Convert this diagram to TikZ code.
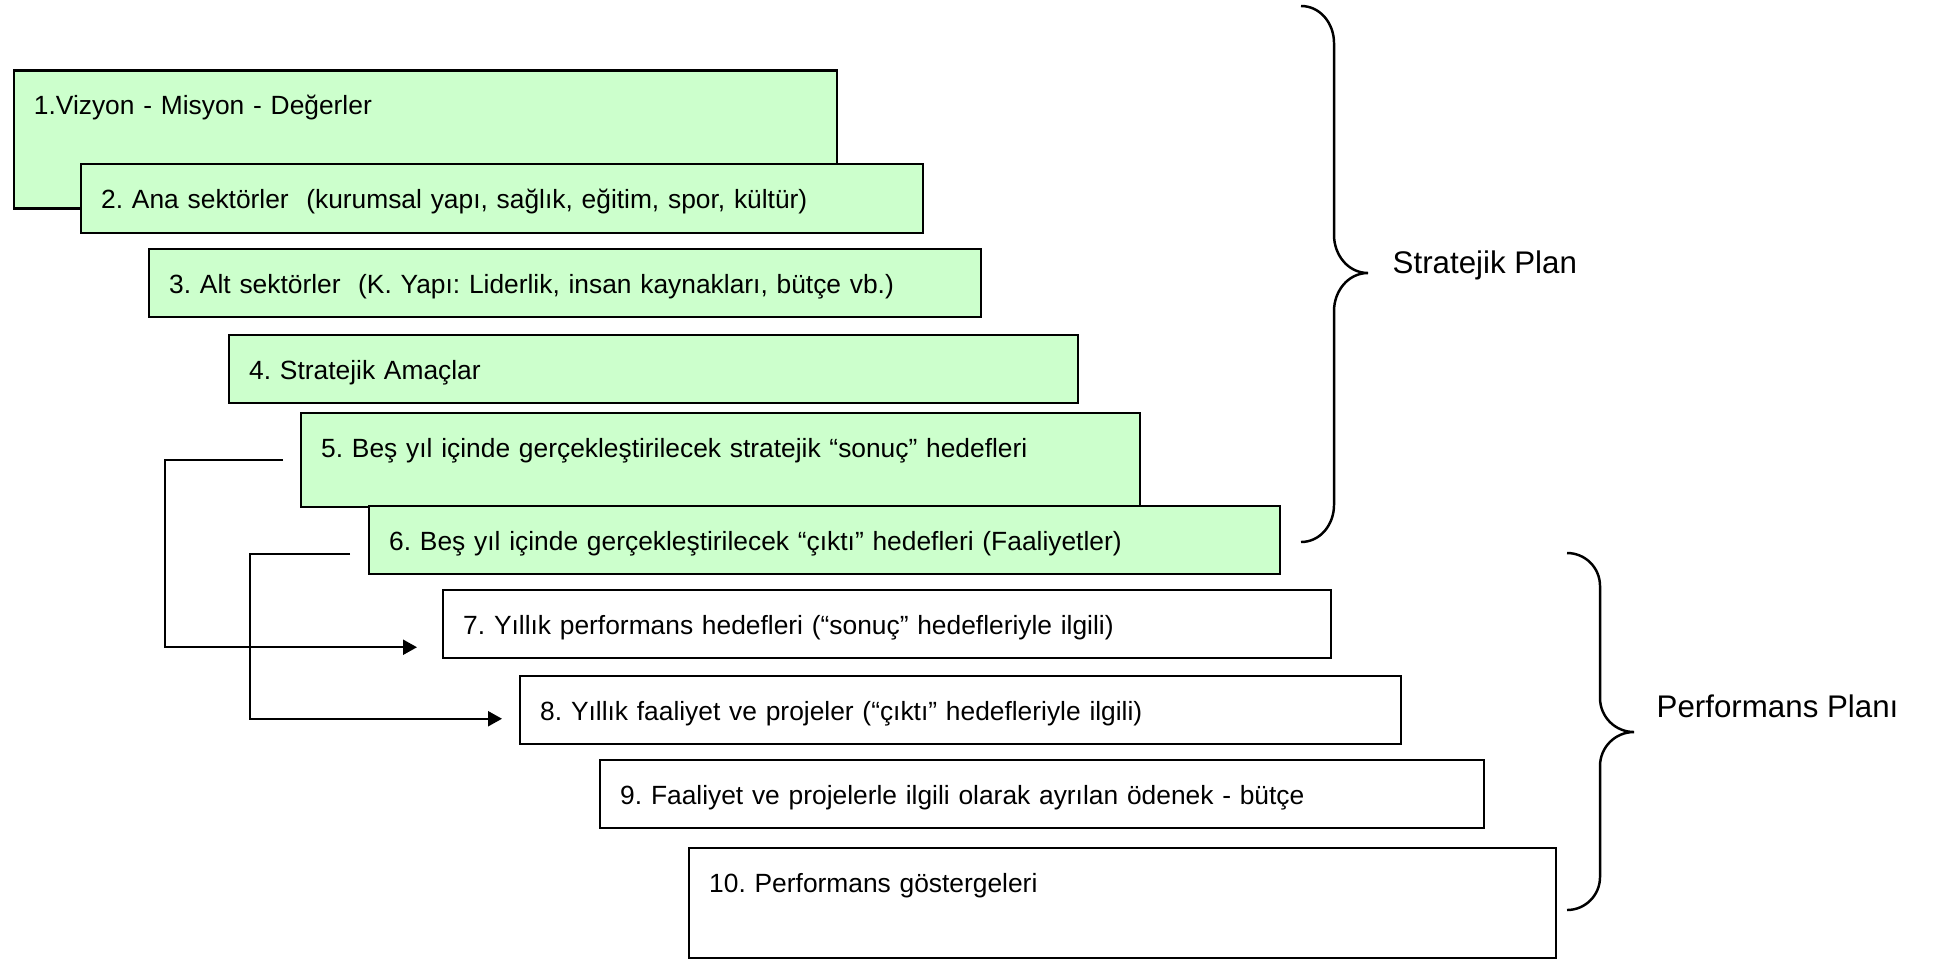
\documentclass[tikz,border=0pt]{standalone}
\usepackage{fontspec}
\setmainfont{Liberation Sans}
\usetikzlibrary{arrows.meta}
\definecolor{softgreen}{HTML}{CCFFCC}
\frenchspacing

\begin{document}
\begin{tikzpicture}
            [stage/.style={draw, line width=0.7pt, anchor=north west, inner xsep=0.2cm, inner ysep=0pt,
                text height=0.44cm, text depth=0.24cm, align=left, font=\fontsize{7.5}{9}\selectfont},
        stageGreen/.style={stage, fill=softgreen},
        planLabel/.style={anchor=base west, inner sep=0pt, font=\fontsize{8.9}{11}\selectfont},
        conn/.style={line width=0.6pt, -{Triangle[length=0.14cm, width=0.15cm]}}]
            \useasboundingbox (0,0) rectangle (19.41,-9.58);

            \node[stageGreen, text width=7.83cm, text depth=0.94cm] (v1) at (0.127,-0.693) {1.Vizyon - Misyon - Değerler};
            \node[stageGreen, text width=8.02cm, text depth=0.25cm] (v2) at (0.80,-1.63) {2. Ana sektörler\ \ (kurumsal yapı, sağlık, eğitim, spor, kültür)};
            \node[stageGreen, text width=7.92cm] (v3) at (1.48,-2.48) {3. Alt sektörler\ \ (K. Yapı: Liderlik, insan kaynakları, bütçe vb.)};
            \node[stageGreen, text width=8.09cm] (v4) at (2.28,-3.34) {4. Stratejik Amaçlar};
            \node[stageGreen, text width=7.99cm, text depth=0.50cm] (v5) at (3.00,-4.12) {5. Beş yıl içinde gerçekleştirilecek stratejik “sonuç” hedefleri};
            \node[stageGreen, text width=8.71cm] (v6) at (3.68,-5.05) {6. Beş yıl içinde gerçekleştirilecek “çıktı” hedefleri (Faaliyetler)};
            \node[stage, text width=8.48cm] (v7) at (4.42,-5.89) {7. Yıllık performans hedefleri (“sonuç” hedefleriyle ilgili)};
            \node[stage, text width=8.41cm] (v8) at (5.19,-6.75) {8. Yıllık faaliyet ve projeler (“çıktı” hedefleriyle ilgili)};
            \node[stage, text width=8.44cm] (v9) at (5.99,-7.59) {9. Faaliyet ve projelerle ilgili olarak ayrılan ödenek - bütçe};
            \node[stage, text width=8.27cm, text depth=0.66cm] (v10) at (6.88,-8.47) {10. Performans göstergeleri};

            % free ends of the two connectors
            \coordinate (s5) at ([xshift=-0.17cm]v5.west);
            \coordinate (e7) at ([xshift=-0.25cm, yshift=-0.23cm]v7.west);
            \coordinate (s6) at ([xshift=-0.18cm, yshift=-0.14cm]v6.west);
            \coordinate (e8) at ([xshift=-0.17cm, yshift=-0.085cm]v8.west);

            \draw[conn] (s5) -- ++(-1.18,0) |- (e7);
            \draw[conn] (s6) -- ++(-1.00,0) |- (e8);

            % braces
            \coordinate (t1) at (13.68,-2.73);
            \coordinate (t2) at (16.34,-7.32);
            \draw[line width=0.7pt] (13.01,-0.06) to[out=0, in=90] (13.34,-0.43) -- (13.34,-2.35)
                to[out=-90, in=180] (t1) to[out=180, in=90] (13.34,-3.11) -- (13.34,-5.05)
                to[out=-90, in=0] (13.01,-5.42);
            \draw[line width=0.7pt] (15.67,-5.53) to[out=0, in=90] (16.00,-5.86) -- (16.00,-6.98)
                to[out=-90, in=180] (t2) to[out=180, in=90] (16.00,-7.66) -- (16.00,-8.77)
                to[out=-90, in=0] (15.67,-9.10);

            \node[planLabel] (sp) at ([xshift=0.24cm]t1) {Stratejik Plan};
            \node[planLabel] (pp) at ([xshift=0.22cm, yshift=0.15cm]t2) {Performans Planı};
        \end{tikzpicture}
\end{document}
